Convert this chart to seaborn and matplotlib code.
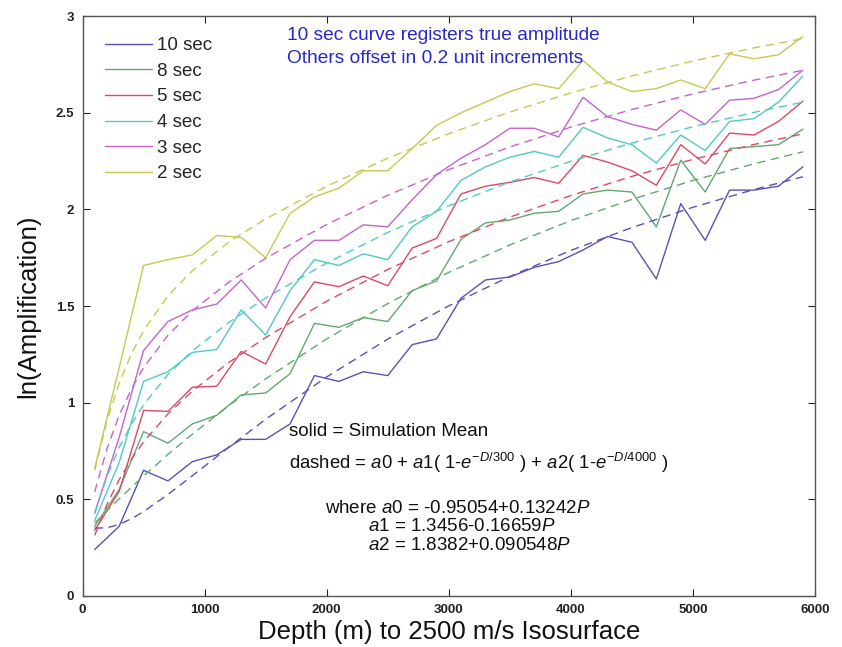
import numpy as np
import pandas as pd
import matplotlib
matplotlib.use("Agg")
import matplotlib.pyplot as plt
import seaborn as sns

# ---------------- data ----------------
depth = [100, 300, 500, 700, 900, 1100, 1300, 1500, 1700, 1900, 2100, 2300, 2500,
         2700, 2900, 3100, 3300, 3500, 3700, 3900, 4100, 4300, 4500, 4700, 4900,
         5100, 5300, 5500, 5700, 5900]

periods = ["10 sec", "8 sec", "5 sec", "4 sec", "3 sec", "2 sec"]

sim_10 = [0.24, 0.36, 0.65, 0.595, 0.695, 0.73, 0.81, 0.81, 0.89, 1.14, 1.11, 1.16, 1.14,
          1.30, 1.33, 1.54, 1.635, 1.65, 1.70, 1.73, 1.79, 1.86, 1.83, 1.64, 2.03,
          1.84, 2.10, 2.10, 2.12, 2.22]
sim_8 = [0.36, 0.55, 0.85, 0.79, 0.89, 0.935, 1.04, 1.05, 1.15, 1.41, 1.39, 1.44, 1.42,
         1.58, 1.63, 1.845, 1.93, 1.945, 1.98, 1.99, 2.08, 2.10, 2.09, 1.91, 2.255,
         2.09, 2.315, 2.325, 2.335, 2.415]
sim_5 = [0.34, 0.54, 0.96, 0.955, 1.08, 1.085, 1.265, 1.20, 1.445, 1.625, 1.60, 1.655, 1.605,
         1.80, 1.85, 2.08, 2.12, 2.14, 2.165, 2.135, 2.28, 2.245, 2.20, 2.125, 2.335,
         2.235, 2.395, 2.385, 2.455, 2.56]
sim_4 = [0.39, 0.69, 1.11, 1.16, 1.26, 1.275, 1.48, 1.35, 1.58, 1.74, 1.71, 1.77, 1.74,
         1.91, 1.99, 2.15, 2.22, 2.27, 2.30, 2.27, 2.425, 2.37, 2.335, 2.24, 2.385,
         2.305, 2.455, 2.47, 2.555, 2.69]
sim_3 = [0.43, 0.82, 1.27, 1.42, 1.48, 1.51, 1.635, 1.49, 1.74, 1.84, 1.84, 1.92, 1.91,
         2.05, 2.18, 2.265, 2.335, 2.42, 2.42, 2.375, 2.58, 2.48, 2.44, 2.41, 2.515,
         2.44, 2.565, 2.575, 2.62, 2.72]
sim_2 = [0.66, 1.18, 1.71, 1.74, 1.765, 1.865, 1.855, 1.75, 1.98, 2.065, 2.11, 2.20, 2.20,
         2.315, 2.435, 2.50, 2.555, 2.61, 2.65, 2.625, 2.77, 2.66, 2.61, 2.625, 2.67,
         2.625, 2.805, 2.78, 2.80, 2.895]

fit_depth = [100, 200, 300, 400, 500, 700, 900, 1200, 1500, 2000, 2500, 3000, 3500,
             4000, 4500, 5000, 5500, 5900]
fit_10 = [0.351, 0.352, 0.370, 0.399, 0.436, 0.525, 0.622, 0.770, 0.914, 1.133, 1.329,
          1.501, 1.653, 1.788, 1.906, 2.011, 2.103, 2.169]
fit_8 = [0.376, 0.440, 0.502, 0.562, 0.620, 0.732, 0.837, 0.986, 1.123, 1.330, 1.513,
         1.674, 1.816, 1.942, 2.052, 2.150, 2.236, 2.298]
fit_5 = [0.313, 0.473, 0.601, 0.707, 0.797, 0.942, 1.060, 1.209, 1.337, 1.525, 1.689,
         1.833, 1.960, 2.072, 2.171, 2.259, 2.336, 2.391]
fit_4 = [0.426, 0.617, 0.768, 0.889, 0.989, 1.146, 1.268, 1.416, 1.542, 1.723, 1.881,
         2.019, 2.142, 2.249, 2.344, 2.428, 2.502, 2.555]
fit_3 = [0.539, 0.761, 0.934, 1.070, 1.181, 1.349, 1.476, 1.624, 1.747, 1.922, 2.073,
         2.206, 2.323, 2.426, 2.517, 2.598, 2.669, 2.720]
fit_2 = [0.651, 0.905, 1.100, 1.252, 1.373, 1.553, 1.683, 1.832, 1.951, 2.120, 2.265,
         2.392, 2.504, 2.603, 2.691, 2.768, 2.836, 2.884]

colors = ["#5a52b4", "#62a870", "#dc4a64", "#52c8c8", "#c464cc", "#c8c850"]

sim_all = [sim_10, sim_8, sim_5, sim_4, sim_3, sim_2]
fit_all = [fit_10, fit_8, fit_5, fit_4, fit_3, fit_2]

sim_df = pd.DataFrame({
    "depth": np.tile(depth, len(periods)),
    "value": np.concatenate(sim_all),
    "period": np.repeat(periods, len(depth)),
})
fit_df = pd.DataFrame({
    "depth": np.tile(fit_depth, len(periods)),
    "value": np.concatenate(fit_all),
    "period": np.repeat(periods, len(fit_depth)),
})

# ---------------- style ----------------
sns.set_style("ticks", {"xtick.direction": "in", "ytick.direction": "in"})
plt.rcParams["font.family"] = ["Liberation Sans", "DejaVu Sans"]
plt.rcParams["mathtext.fontset"] = "custom"
plt.rcParams["mathtext.rm"] = "Liberation Sans"
plt.rcParams["mathtext.it"] = "Liberation Sans:italic"
plt.rcParams["mathtext.bf"] = "Liberation Sans:bold"

fig = plt.figure(figsize=(8.42, 6.47), dpi=100)
ax = fig.add_axes([0.098, 0.079, 0.870, 0.896])

palette = dict(zip(periods, colors))
sns.lineplot(data=sim_df, x="depth", y="value", hue="period", hue_order=periods,
             palette=palette, estimator=None, sort=True, linewidth=1.0, ax=ax)
sns.lineplot(data=fit_df, x="depth", y="value", hue="period", hue_order=periods,
             palette=palette, estimator=None, sort=True, linewidth=1.0,
             linestyle=(0, (6, 4)), legend=False, ax=ax)

ax.set_xlim(0, 6000)
ax.set_ylim(0, 3)
ax.set_xticks([0, 1000, 2000, 3000, 4000, 5000, 6000])
ax.set_yticks([0, 0.5, 1, 1.5, 2, 2.5, 3])
ax.set_yticklabels(["0", "0.5", "1", "1.5", "2", "2.5", "3"])
ax.tick_params(axis="both", which="both", direction="in", top=True, right=True,
               length=5, width=0.8, labelsize=9.5, colors="#222222", pad=6)
for lab in ax.get_xticklabels() + ax.get_yticklabels():
    lab.set_fontweight("bold")
for sp in ax.spines.values():
    sp.set_visible(True)
    sp.set_color("#555555")
    sp.set_linewidth(1.0)

ax.set_xlabel("Depth (m) to 2500 m/s Isosurface", fontsize=18.5, labelpad=3,
              color="#111111")
ax.set_ylabel("ln(Amplification)", fontsize=18.5, labelpad=11, color="#111111")

leg = ax.legend(loc="upper left", bbox_to_anchor=(0.0205, 0.977), frameon=False,
                fontsize=13.5, handlelength=2.5, handletextpad=0.27,
                labelspacing=0.455, borderaxespad=0.0)
for line in leg.get_lines():
    line.set_linewidth(1.0)

fs = 13.5
ax.text(1675, 2.902, "10 sec curve registers true amplitude", color="#2828c8",
        fontsize=13.8, ha="left", va="center")
ax.text(1675, 2.782, "Others offset in 0.2 unit increments", color="#2828c8",
        fontsize=13.8, ha="left", va="center")

ax.text(1690, 0.85, "solid = Simulation Mean", fontsize=fs, ha="left", va="center",
        color="#111111")
ax.text(1690, 0.686,
        r"dashed = $\mathit{a0}$ + $\mathit{a1}$( 1-$\mathit{e}^{-D/300}$ ) + "
        r"$\mathit{a2}$( 1-$\mathit{e}^{-D/4000}$ )",
        fontsize=13.3, ha="left", va="center", color="#111111")
ax.text(1990, 0.454, r"where $\mathit{a0}$ = -0.95054+0.13242$\mathit{P}$",
        fontsize=fs, ha="left", va="center", color="#111111")
ax.text(2335, 0.359, r"$\mathit{a1}$ = 1.3456-0.16659$\mathit{P}$",
        fontsize=fs, ha="left", va="center", color="#111111")
ax.text(2335, 0.262, r"$\mathit{a2}$ = 1.8382+0.090548$\mathit{P}$",
        fontsize=fs, ha="left", va="center", color="#111111")

fig.savefig("out.png", dpi=100)
